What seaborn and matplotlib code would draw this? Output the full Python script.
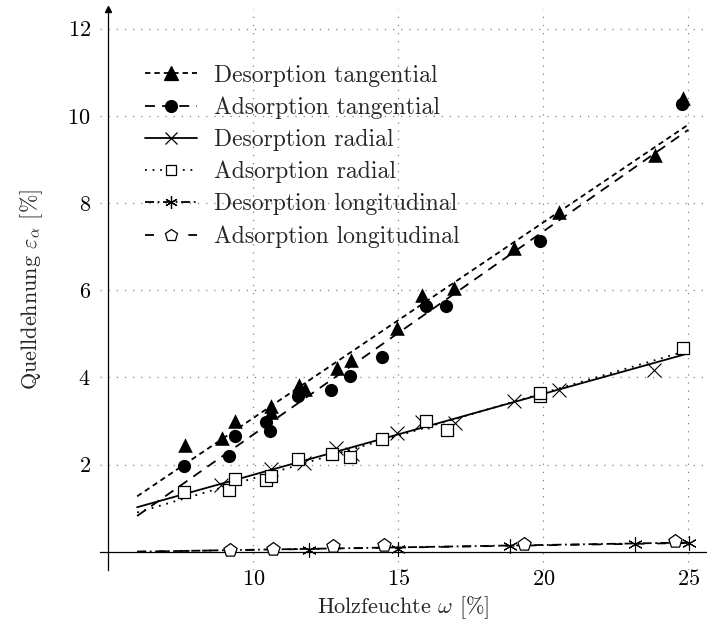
import numpy as np
import pandas as pd
import matplotlib
matplotlib.use("Agg")
import matplotlib.pyplot as plt
from matplotlib.lines import Line2D
import seaborn as sns

# Measured swelling strain vs. wood moisture content
w_des_tan = [7.65, 8.94, 9.38, 10.60, 10.63, 11.58, 11.78, 12.88, 13.38, 14.94, 15.83, 16.92, 18.98, 20.55, 23.85, 24.80]
e_des_tan = [2.44, 2.61, 2.99, 3.20, 3.35, 3.83, 3.73, 4.21, 4.40, 5.13, 5.89, 6.05, 6.97, 7.80, 9.11, 10.40]

w_ads_tan = [7.60, 9.17, 9.38, 10.43, 10.58, 11.56, 12.69, 13.33, 14.45, 15.94, 16.66, 19.90, 24.77]
e_ads_tan = [1.97, 2.19, 2.65, 2.97, 2.76, 3.58, 3.70, 4.02, 4.47, 5.63, 5.63, 7.12, 10.27]

w_des_rad = [8.90, 10.60, 11.75, 12.84, 13.40, 14.94, 15.83, 16.94, 18.98, 20.54, 23.80]
e_des_rad = [1.52, 1.89, 2.03, 2.37, 2.23, 2.73, 2.97, 2.95, 3.45, 3.70, 4.17]

w_ads_rad = [7.60, 9.17, 9.38, 10.43, 10.60, 11.56, 12.73, 13.33, 14.45, 15.94, 16.68, 19.90, 19.90, 24.80]
e_ads_rad = [1.36, 1.42, 1.67, 1.65, 1.74, 2.13, 2.25, 2.17, 2.58, 3.00, 2.80, 3.57, 3.65, 4.67]

w_des_lon = [11.92, 15.00, 18.86, 23.16, 25.03]
e_des_lon = [0.05, 0.06, 0.14, 0.18, 0.21]

w_ads_lon = [9.20, 10.67, 12.75, 14.50, 19.35, 24.54]
e_ads_lon = [0.03, 0.06, 0.12, 0.16, 0.18, 0.24]

# Linear fits, evaluated at the ends of the fitted moisture range
fit_w = [6.0, 25.0]
fit_des_tan = [1.27, 9.80]
fit_ads_tan = [0.82, 9.68]
fit_des_rad = [1.02, 4.55]
fit_ads_rad = [0.90, 4.62]
fit_des_lon = [0.00, 0.21]
fit_ads_lon = [0.00, 0.20]

labels = ["Desorption tangential", "Adsorption tangential", "Desorption radial",
          "Adsorption radial", "Desorption longitudinal", "Adsorption longitudinal"]

sns.set_theme(style="white")
plt.rcParams["font.family"] = ["cmr10", "DejaVu Sans"]
plt.rcParams["mathtext.fontset"] = "cm"
plt.rcParams["axes.formatter.use_mathtext"] = True

W, H = 707, 634
fig = plt.figure(figsize=(W / 100, H / 100), dpi=100)
ax = fig.add_axes([100 / W, 1 - 570 / H, 607 / W, 561 / H])
ax.set_xlim(4.72, 25.64)
ax.set_ylim(-0.42, 12.45)

black = "black"
styles = [
    dict(ls=(0, (3.0, 2.2)), marker="^", mfc=black, ms=10.5, w=w_des_tan, e=e_des_tan, fit=fit_des_tan),
    dict(ls=(0, (5.5, 4.0)), marker="o", mfc=black, ms=9.5, w=w_ads_tan, e=e_ads_tan, fit=fit_ads_tan),
    dict(ls="-", marker="x", mfc=black, ms=10, w=w_des_rad, e=e_des_rad, fit=fit_des_rad),
    dict(ls=(0, (1.0, 3.2)), marker="s", mfc="white", ms=8.5, w=w_ads_rad, e=e_ads_rad, fit=fit_ads_rad),
    dict(ls=(0, (5.0, 2.0, 1.0, 2.0)), marker=(6, 2, 0), mfc=black, ms=10, w=w_des_lon, e=e_des_lon, fit=fit_des_lon),
    dict(ls=(0, (5.0, 7.0)), marker="p", mfc="white", ms=10, w=w_ads_lon, e=e_ads_lon, fit=fit_ads_lon),
]

lw = 1.3
handles = []
for lab, st in zip(labels, styles):
    fit_df = pd.DataFrame({"w": fit_w, "e": st["fit"]})
    sns.lineplot(data=fit_df, x="w", y="e", ax=ax, color=black, lw=lw,
                 linestyle=st["ls"], legend=False, zorder=3)
    pts = pd.DataFrame({"w": st["w"], "e": st["e"]})
    filled = st["mfc"] == black
    if st["marker"] in ("x",) or isinstance(st["marker"], tuple):
        sns.scatterplot(data=pts, x="w", y="e", ax=ax, marker=st["marker"],
                        s=st["ms"] ** 2, color=black, linewidth=0.8, zorder=4, legend=False)
    else:
        sns.scatterplot(data=pts, x="w", y="e", ax=ax, marker=st["marker"],
                        s=st["ms"] ** 2, facecolor=st["mfc"], edgecolor=black,
                        linewidth=0.0 if filled else 0.9, zorder=4, legend=False)
    handles.append(Line2D([], [], color=black, lw=lw, linestyle=st["ls"],
                          marker=st["marker"], markersize=st["ms"] * 0.9,
                          markerfacecolor=st["mfc"], markeredgecolor=black,
                          markeredgewidth=0.9))

# Axis lines crossing at (5, 0)
for s in ("top", "right"):
    ax.spines[s].set_visible(False)
ax.spines["left"].set_position(("data", 5))
ax.spines["bottom"].set_position(("data", 0))
for s in ("left", "bottom"):
    ax.spines[s].set_color(black)
    ax.spines[s].set_linewidth(0.9)
ax.plot(5, 1, marker="^", ms=5, color=black, transform=ax.get_xaxis_transform(),
        clip_on=False, zorder=5)

ax.set_xticks([10, 15, 20, 25])
ax.set_yticks([2, 4, 6, 8, 10, 12])
ax.tick_params(axis="both", direction="inout", length=13, width=0.9, color=black,
               labelsize=16, labelcolor=black)
ax.tick_params(axis="x", pad=6)
ax.tick_params(axis="y", pad=6)
ax.grid(True, color="0.5", linestyle=(0, (1, 5.5)), linewidth=0.9)

ax.set_xlabel(r"Holzfeuchte $\omega$ [%]", fontsize=16)
ax.set_ylabel(r"Quelldehnung $\varepsilon_\alpha$ [%]", fontsize=16, labelpad=16)
ax.xaxis.set_label_coords(0.5, -0.044)

leg = ax.legend(handles, labels, loc="upper left", bbox_to_anchor=(0.058, 0.918),
                frameon=False, fontsize=17, handlelength=2.2, handletextpad=0.72,
                labelspacing=0.42, numpoints=1, borderaxespad=0)

fig.savefig("out.png", dpi=100)
